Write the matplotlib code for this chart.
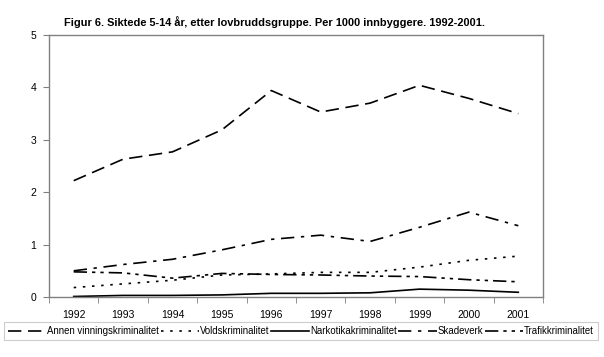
import matplotlib
matplotlib.use("Agg")
import matplotlib.pyplot as plt

plt.rcParams['font.family'] = ['Liberation Sans', 'DejaVu Sans']

years = ['1992', '1993', '1994', '1995', '1996', '1997', '1998', '1999', '2000', '2001']
annen = [2.22, 2.63, 2.77, 3.19, 3.94, 3.53, 3.70, 4.04, 3.79, 3.50]
vold = [0.18, 0.25, 0.32, 0.42, 0.44, 0.47, 0.47, 0.57, 0.70, 0.78]
narko = [0.01, 0.03, 0.03, 0.04, 0.07, 0.07, 0.08, 0.15, 0.13, 0.09]
skade = [0.50, 0.62, 0.72, 0.90, 1.10, 1.18, 1.06, 1.33, 1.62, 1.36]
trafikk = [0.48, 0.46, 0.36, 0.45, 0.43, 0.42, 0.40, 0.39, 0.33, 0.29]

labels = ['Annen vinningskriminalitet', 'Voldskriminalitet', 'Narkotikakriminalitet',
          'Skadeverk', 'Trafikkriminalitet']
series = [annen, vold, narko, skade, trafikk]
styles = [(0, (8, 4)), (0, (1.5, 4)), '-', (0, (8, 4, 2, 4)), (0, (8, 3, 2, 3, 2, 3))]

fig = plt.figure(figsize=(6.04, 3.57), dpi=100)
ax = fig.add_axes([49/604, 1-297/357, 494/604, 262/357])

x = list(range(len(years)))
for vals, lab, ls in zip(series, labels, styles):
    ax.plot(x, vals, color='black', linestyle=ls, linewidth=1.2, label=lab)

ax.set_xlim(-0.5, len(years) - 0.5)
ax.set_ylim(0, 5)
ax.set_yticks([0, 1, 2, 3, 4, 5])
ax.set_xticks(x)
ax.set_xticklabels(years)
ax.set_xticks([i + 0.5 for i in range(-1, len(years))], minor=True)
ax.tick_params(axis='x', which='major', length=0, labelsize=7.5, pad=9)
ax.tick_params(axis='x', which='minor', length=4, color='#808080', direction='out')
ax.tick_params(axis='y', length=4, color='#808080', labelsize=7.5, pad=5)
for s in ax.spines.values():
    s.set_color('#808080')
    s.set_linewidth(1.0)

fig.text(64/604, 1-22/357, 'Figur 6. Siktede 5-14 år, etter lovbruddsgruppe. Per 1000 innbyggere. 1992-2001.',
         fontsize=7.9, fontweight='bold', va='center', ha='left')

leg = fig.legend(loc='center', bbox_to_anchor=(301/604, 1-331/357), ncol=5, fontsize=6.9,
                 frameon=True, fancybox=False, edgecolor='#c0c0c0', handlelength=4.0,
                 handletextpad=0.1, columnspacing=0.15, borderpad=0.4, borderaxespad=0)
leg.get_frame().set_linewidth(0.8)

fig.savefig('out.png', dpi=100)
